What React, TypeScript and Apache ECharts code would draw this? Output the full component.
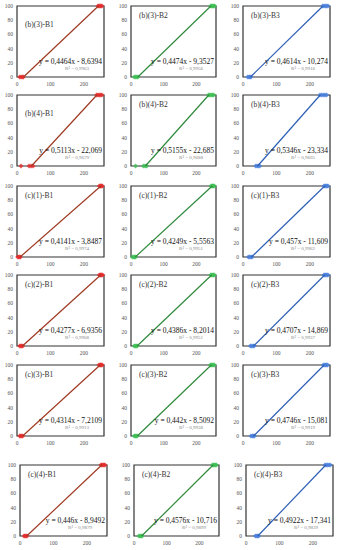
import React, { useEffect, useRef } from 'react';
import * as echarts from 'echarts';

// ---------- data ----------
const panelNames = [
  '(b)(3)-B1', '(b)(3)-B2', '(b)(3)-B3',
  '(b)(4)-B1', '(b)(4)-B2', '(b)(4)-B3',
  '(c)(1)-B1', '(c)(1)-B2', '(c)(1)-B3',
  '(c)(2)-B1', '(c)(2)-B2', '(c)(2)-B3',
  '(c)(3)-B1', '(c)(3)-B2', '(c)(3)-B3',
  '(c)(4)-B1', '(c)(4)-B2', '(c)(4)-B3',
];
const slopes = [
  0.4464, 0.4474, 0.4614,
  0.5113, 0.5155, 0.5346,
  0.4141, 0.4249, 0.457,
  0.4277, 0.4386, 0.4707,
  0.4314, 0.442, 0.4746,
  0.446, 0.4576, 0.4922,
];
const intercepts = [
  8.6394, 9.3527, 10.274,
  22.069, 22.685, 23.334,
  3.8487, 5.5563, 11.609,
  6.9356, 8.2014, 14.869,
  7.2109, 8.5092, 15.081,
  8.9492, 10.716, 17.341,
];
const rSquared = [
  0.9963, 0.9956, 0.9916,
  0.9679, 0.9688, 0.9605,
  0.9974, 0.9951, 0.9962,
  0.9968, 0.9951, 0.9937,
  0.9913, 0.9938, 0.9919,
  0.9879, 0.9899, 0.9839,
];
const xTicks = [0, 100, 200];
const yTicks = [0, 20, 40, 60, 80, 100];

const ptsB3B1 = [[8,0],[12,0],[16,0],[19,0],[242,100],[245,100],[248,100],[251,100],[254,100]];
const ptsB3B2 = [[10,0],[14,0],[18,0],[21,0],[244,100],[247,100],[250,100],[253,100],[256,100]];
const ptsB3B3 = [[14,0],[18,0],[21,0],[24,0],[238,100],[242,100],[246,100],[250,100],[254,100]];
const ptsB4B1 = [[12,0],[36,0],[42,0],[48,0],[238,100],[242,100],[246,100],[250,100],[254,100]];
const ptsB4B2 = [[14,0],[38,0],[43,0],[48,0],[237,100],[241,100],[245,100],[249,100],[253,100]];
const ptsB4B3 = [[38,0],[42,0],[46,0],[50,0],[230,100],[235,100],[240,100],[245,100],[250,100]];
const ptsC1B1 = [[2,0],[5,0],[8,0],[10,0],[246,100],[249,100],[251,100],[253,100],[255,100]];
const ptsC1B2 = [[4,0],[8,0],[11,0],[14,0],[245,100],[248,100],[250,100],[252,100],[255,100]];
const ptsC1B3 = [[16,0],[20,0],[24,0],[27,0],[242,100],[245,100],[248,100],[251,100],[254,100]];
const ptsC2B1 = [[8,0],[11,0],[14,0],[17,0],[246,100],[249,100],[251,100],[253,100],[256,100]];
const ptsC2B2 = [[10,0],[13,0],[16,0],[19,0],[244,100],[247,100],[250,100],[252,100],[255,100]];
const ptsC2B3 = [[22,0],[26,0],[30,0],[33,0],[242,100],[245,100],[248,100],[251,100],[254,100]];
const ptsC3B1 = [[8,0],[11,0],[14,0],[17,0],[245,100],[248,100],[250,100],[252,100],[255,100]];
const ptsC3B2 = [[10,0],[13,0],[16,0],[19,0],[243,100],[246,100],[249,100],[252,100],[255,100]];
const ptsC3B3 = [[24,0],[28,0],[31,0],[34,0],[240,100],[244,100],[247,100],[250,100],[253,100]];
const ptsC4B1 = [[12,0],[15,0],[18,0],[21,0],[242,100],[245,100],[248,100],[251,100],[254,100]];
const ptsC4B2 = [[15,0],[19,0],[22,0],[25,0],[240,100],[243,100],[246,100],[249,100],[252,100]];
const ptsC4B3 = [[28,0],[32,0],[35,0],[38,0],[236,100],[240,100],[244,100],[248,100],[252,100]];

const panelPoints = [
  ptsB3B1, ptsB3B2, ptsB3B3,
  ptsB4B1, ptsB4B2, ptsB4B3,
  ptsC1B1, ptsC1B2, ptsC1B3,
  ptsC2B1, ptsC2B2, ptsC2B3,
  ptsC3B1, ptsC3B2, ptsC3B3,
  ptsC4B1, ptsC4B2, ptsC4B3,
];

// ---------- style / layout ----------
const lineColors = ['#9e3a22', '#2f8a3c', '#2d5fb5'];
const markerColors = ['#e52d2d', '#3fbf55', '#4a80dc'];
const rowTops = [6, 95, 186, 275, 365, 465];
const colLefts = [17, 131, 243];
const colWidths = [87, 85, 87];
const lastRowShift = 3;
const plotH = 71;
const SERIF = '"Liberation Serif", "Times New Roman", serif';

const fmt = (v: number) => String(v).replace('.', ',');

export default function App() {
  const ref = useRef<HTMLDivElement>(null);
  useEffect(() => {
    document.body.style.margin = '0';
    if (!ref.current) return;
    const chart = echarts.init(ref.current, undefined, { renderer: 'svg' });
    const grids: any[] = [];
    const xAxes: any[] = [];
    const yAxes: any[] = [];
    const series: any[] = [];
    const graphics: any[] = [];
    panelNames.forEach((name, i) => {
      const r = Math.floor(i / 3);
      const c = i % 3;
      const left = colLefts[c] + (r === 5 ? lastRowShift : 0);
      const top = rowTops[r];
      const w = colWidths[c];
      grids.push({ left, top, width: w, height: plotH, show: true, borderColor: '#333', borderWidth: 1.2, backgroundColor: 'transparent' });
      xAxes.push({
        type: 'value', gridIndex: i, min: 0, max: 260, interval: 100,
        axisLine: { show: false }, axisTick: { show: false }, splitLine: { show: false },
        axisLabel: { fontSize: 5.5, color: '#555', margin: 4, fontFamily: SERIF, formatter: (v: number) => (xTicks.includes(v) ? String(v) : '') },
      });
      yAxes.push({
        type: 'value', gridIndex: i, min: 0, max: 100, interval: 20,
        axisLine: { show: false }, axisTick: { show: false }, splitLine: { show: false },
        axisLabel: { fontSize: 5.5, color: '#555', margin: 4, fontFamily: SERIF, formatter: (v: number) => (yTicks.includes(v) ? String(v) : '') },
      });
      const a = slopes[i];
      const b = intercepts[i];
      series.push({
        type: 'scatter', xAxisIndex: i, yAxisIndex: i, data: panelPoints[i],
        symbol: 'diamond', symbolSize: 5, itemStyle: { color: markerColors[c] }, z: 2,
      });
      series.push({
        type: 'line', xAxisIndex: i, yAxisIndex: i,
        data: [[b / a, 0], [(100 + b) / a, 100]],
        symbol: 'none', lineStyle: { color: lineColors[c], width: 1.2 }, z: 3,
      });
      const titleDy = (c === 0 && (r === 0 || r === 1)) ? 18 : 9;
      graphics.push({
        type: 'text', x: left + 8, y: top + titleDy, z: 10,
        style: { text: name, font: `7.5px ${SERIF}`, fill: '#333', textAlign: 'left', textVerticalAlign: 'middle' },
      });
      graphics.push({
        type: 'text', x: left + w - 2, y: top + 55, z: 10,
        style: { text: `y = ${fmt(a)}x - ${fmt(b)}`, font: `7.5px ${SERIF}`, fill: '#111', textAlign: 'right', textVerticalAlign: 'middle' },
      });
      graphics.push({
        type: 'text', x: left + 60, y: top + 62.5, z: 10,
        style: { text: `R² = ${fmt(rSquared[i])}`, font: `5px ${SERIF}`, fill: '#888', textAlign: 'center', textVerticalAlign: 'middle' },
      });
    });
    chart.setOption({
      animation: false,
      backgroundColor: '#fff',
      grid: grids,
      xAxis: xAxes,
      yAxis: yAxes,
      series,
      graphic: graphics,
    });
    return () => chart.dispose();
  }, []);
  return <div ref={ref} style={{ width: 338, height: 550 }} />;
}
